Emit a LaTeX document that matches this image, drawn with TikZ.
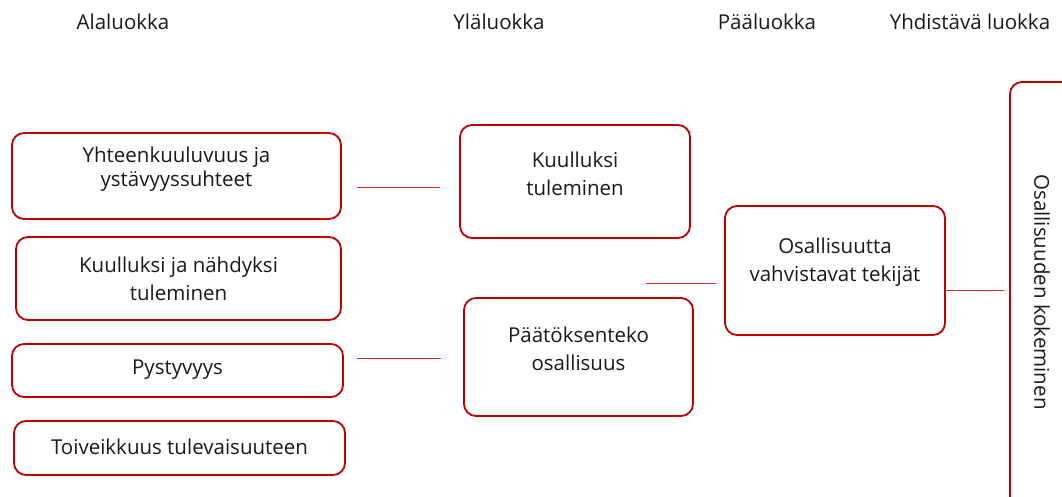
\documentclass[tikz,border=0pt]{standalone}
\usepackage{fontspec}
\setmainfont{Open Sans}
\definecolor{boxred}{HTML}{C00000}
\definecolor{linered}{HTML}{D03030}
\definecolor{txt}{HTML}{1A1A1A}
\begin{document}
\begin{tikzpicture}[x=1pt,y=-1pt,
  box/.style={draw=boxred,line width=1.8pt,rounded corners=12pt,fill=white},
  lbl/.style={font=\fontsize{20.5}{28}\selectfont,text=txt,align=center,inner sep=0pt},
  tight/.style={font=\fontsize{20.5}{24}\selectfont},
  conn/.style={draw=linered,line width=0.9pt}]
\useasboundingbox (0,0) rectangle (1062,497);
\clip (0,0) rectangle (1062,497);
% headers
\node[lbl] (h1) at (123,22) {Alaluokka};
\node[lbl] (h2) at (499,22) {Yläluokka};
\node[lbl] (h3) at (767,22) {Pääluokka};
\node[lbl] (h4) at (970,22) {Yhdistävä luokka};
% left boxes
\draw[box] (12,133) rectangle (341,219);
\node[lbl,tight] (t1) at (176.5,169) {Yhteenkuuluvuus ja\\ystävyyssuhteet};
\draw[box] (16,237) rectangle (341,320);
\node[lbl] (t2) at (178.5,279) {Kuulluksi ja nähdyksi\\tuleminen};
\draw[box] (12,344) rectangle (343,397);
\node[lbl] (t3) at (177.5,370) {Pystyvyys};
\draw[box] (14,421) rectangle (345,475);
\node[lbl] (t4) at (179.5,447) {Toiveikkuus tulevaisuuteen};
% middle boxes
\draw[box] (460,125) rectangle (690,238);
\node[lbl] (t5) at (575,174) {Kuulluksi\\tuleminen};
\draw[box] (464,298) rectangle (693,416);
\node[lbl] (t6) at (578.5,349) {Päätöksenteko\\osallisuus};
% main box
\draw[box] (725,206) rectangle (945,335);
\node[lbl] (t7) at (835,262) {Osallisuutta\\vahvistavat tekijät};
% unifying box (clipped)
\draw[box] (1010,82) rectangle (1090,520);
\node[lbl,rotate=-90] (t8) at (1042,292) {Osallisuuden kokeminen};
% connectors
\coordinate (c1a) at (357,187); \coordinate (c1b) at (440,187);
\coordinate (c2a) at (357,358); \coordinate (c2b) at (441,358);
\coordinate (c3a) at (646,283); \coordinate (c3b) at (716,283);
\coordinate (c4a) at (946,290); \coordinate (c4b) at (1004,290);
\draw[conn] (c1a) -- (c1b);
\draw[conn] (c2a) -- (c2b);
\draw[conn] (c3a) -- (c3b);
\draw[conn] (c4a) -- (c4b);
\end{tikzpicture}
\end{document}
